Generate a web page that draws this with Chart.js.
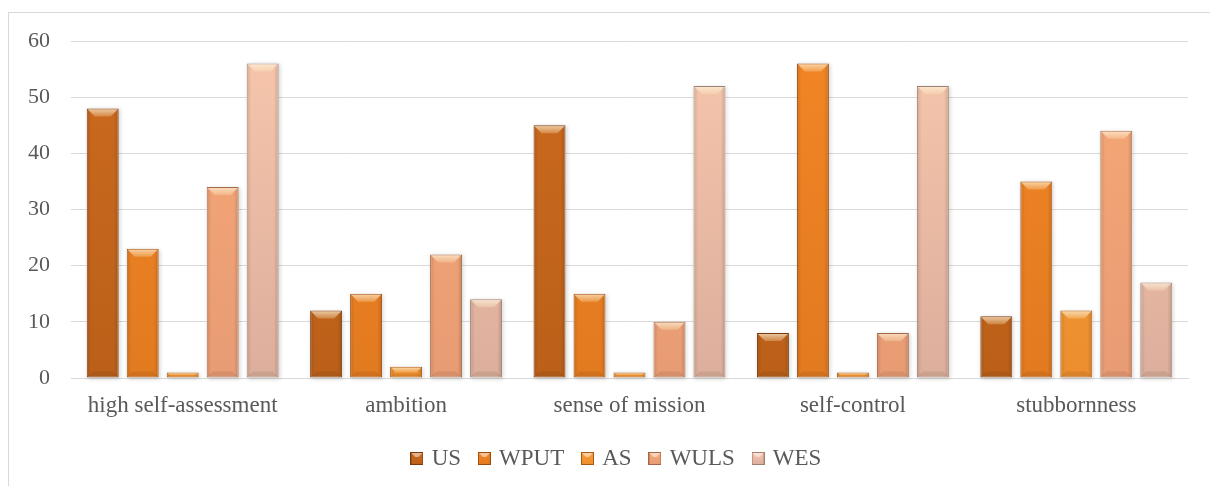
<!DOCTYPE html>
<html>
<head>
<meta charset="utf-8">
<script src="https://cdn.jsdelivr.net/npm/chart.js@4/dist/chart.umd.min.js"></script>
<style>
  html, body { margin: 0; padding: 0; background: #fff; overflow: hidden; }
  #wrap { position: relative; width: 1210px; height: 486px; overflow: hidden; }
  #frame { position: absolute; left: 8px; top: 12px; width: 1400px; height: 700px; border: 1px solid #d9d9d9; }
  #chart { position: absolute; left: 0; top: 0; }
</style>
</head>
<body>
<div id="wrap">
  <div id="frame"></div>
  <canvas id="chart" width="1210" height="486"></canvas>
</div>
<script>
// categories and series values
const categories = ["high self-assessment", "ambition", "sense of mission", "self-control", "stubbornness"];
const seriesNames = ["US", "WPUT", "AS", "WULS", "WES"];
const usValues   = [48, 12, 45, 8, 11];
const wputValues = [23, 15, 15, 56, 35];
const asValues   = [1, 2, 1, 1, 12];
const wulsValues = [34, 22, 10, 8, 44];
const wesValues  = [56, 14, 52, 52, 17];
const yTicks = [0, 10, 20, 30, 40, 50, 60];

// colours: top / bottom of body, edge
const topColors    = ["#cc6a20", "#f28626", "#f69c36", "#f7a876", "#f7c6ac"];
const bottomColors = ["#bb6019", "#e27a20", "#ec8e2e", "#e89c74", "#dcae9c"];
const edgeColors   = ["#7a3a0c", "#9a4c10", "#a85a14", "#a46848", "#a08070"];

const textColor = "#595959";
const fontFamily = "'Liberation Serif', 'Times New Roman', serif";

function vGrad(top, bottom) {
  return (c) => {
    const a = c.chart.chartArea;
    if (!a) return top;
    const g = c.chart.ctx.createLinearGradient(0, a.top, 0, a.bottom);
    g.addColorStop(0, top);
    g.addColorStop(1, bottom);
    return g;
  };
}

// small bevelled square used as legend marker
function swatch(i) {
  const c = document.createElement('canvas');
  c.width = 13; c.height = 13;
  const x = c.getContext('2d');
  const g = x.createLinearGradient(0, 0, 0, 13);
  g.addColorStop(0, topColors[i]);
  g.addColorStop(1, bottomColors[i]);
  x.fillStyle = g;
  x.fillRect(0, 0, 13, 13);
  x.beginPath();
  x.moveTo(1, 1); x.lineTo(12, 1); x.lineTo(8, 5); x.lineTo(5, 5); x.closePath();
  x.fillStyle = 'rgba(255,255,255,0.5)';
  x.fill();
  x.strokeStyle = edgeColors[i];
  x.lineWidth = 1;
  x.strokeRect(0.5, 0.5, 12, 12);
  return c;
}

const allValues = [usValues, wputValues, asValues, wulsValues, wesValues];

const datasets = seriesNames.map((name, i) => ({
  label: name,
  data: allValues[i],
  backgroundColor: vGrad(topColors[i], bottomColors[i]),
  borderColor: edgeColors[i],
  borderWidth: 1,
  borderSkipped: false,
  categoryPercentage: 0.895,
  barPercentage: 0.8
}));

// bevel / shading on each bar, drawn from the bar elements' own geometry
const bevelPlugin = {
  id: 'bevel',
  afterLayout(chart) {
    // centre the legend under the plot like the original
    if (chart.legend) chart.legend.left += 47;
  },
  beforeDatasetsDraw(chart) {
    const ctx = chart.ctx;
    ctx.save();
    chart.data.datasets.forEach((ds, i) => {
      chart.getDatasetMeta(i).data.forEach(bar => {
        const p = bar.getProps(['x', 'y', 'base', 'width'], true);
        ctx.shadowColor = 'rgba(0,0,0,0.18)';
        ctx.shadowBlur = 4;
        ctx.shadowOffsetX = 1;
        ctx.shadowOffsetY = 1;
        ctx.fillStyle = '#ffffff';
        ctx.fillRect(p.x - p.width / 2, p.y, p.width, p.base - p.y);
      });
    });
    ctx.restore();
  },
  afterDatasetsDraw(chart) {
    const ctx = chart.ctx;
    ctx.save();
    chart.data.datasets.forEach((ds, i) => {
      chart.getDatasetMeta(i).data.forEach(bar => {
        const p = bar.getProps(['x', 'y', 'base', 'width'], true);
        const left = p.x - p.width / 2, right = p.x + p.width / 2;
        const h = p.base - p.y;
        if (h <= 0) return;
        // side shading
        const sg = ctx.createLinearGradient(left, 0, right, 0);
        sg.addColorStop(0, 'rgba(0,0,0,0.12)');
        sg.addColorStop(0.15, 'rgba(0,0,0,0)');
        sg.addColorStop(0.85, 'rgba(0,0,0,0)');
        sg.addColorStop(1, 'rgba(0,0,0,0.16)');
        ctx.fillStyle = sg;
        ctx.fillRect(left + 1, p.y + 1, p.width - 2, h - 2);
        // top bevel
        const b = Math.min(8, h / 2, p.width / 2);
        ctx.beginPath();
        ctx.moveTo(left + 1, p.y + 1);
        ctx.lineTo(right - 1, p.y + 1);
        ctx.lineTo(right - b, p.y + b);
        ctx.lineTo(left + b, p.y + b);
        ctx.closePath();
        const tg = ctx.createLinearGradient(0, p.y, 0, p.y + b);
        tg.addColorStop(0, 'rgba(255,250,230,0.7)');
        tg.addColorStop(1, 'rgba(255,240,200,0.25)');
        ctx.fillStyle = tg;
        ctx.fill();
        // bottom bevel
        const bb = Math.min(6, h / 3);
        ctx.beginPath();
        ctx.moveTo(left + 1, p.base - 1);
        ctx.lineTo(right - 1, p.base - 1);
        ctx.lineTo(right - bb, p.base - bb);
        ctx.lineTo(left + bb, p.base - bb);
        ctx.closePath();
        ctx.fillStyle = 'rgba(0,0,0,0.08)';
        ctx.fill();
      });
    });
    ctx.restore();
  }
};

new Chart(document.getElementById("chart"), {
  type: "bar",
  data: { labels: categories, datasets: datasets },
  plugins: [bevelPlugin],
  options: {
    responsive: false,
    animation: false,
    layout: { padding: { top: 41, right: 22, left: 0, bottom: 6 } },
    scales: {
      x: {
        grid: { display: false, drawTicks: false },
        border: { color: "#d9d9d9" },
        ticks: { color: textColor, font: { family: fontFamily, size: 23 }, padding: 14, maxRotation: 0 },
        afterFit: (s) => { s.height = 49; }
      },
      y: {
        min: 0,
        max: 60,
        afterBuildTicks: (s) => { s.ticks = yTicks.map(v => ({ value: v })); },
        grid: { color: "#d9d9d9", drawTicks: false },
        border: { display: false },
        ticks: { color: textColor, font: { family: fontFamily, size: 22 }, padding: 21 },
        afterFit: (s) => { s.width = 71; }
      }
    },
    plugins: {
      tooltip: { enabled: false },
      legend: {
        position: "bottom",
        labels: {
          color: textColor,
          font: { family: fontFamily, size: 23 },
          usePointStyle: true,
          pointStyleWidth: 6.5,
          boxHeight: 13,
          padding: 20,
          generateLabels: (chart) => Chart.defaults.plugins.legend.labels.generateLabels(chart).map((l, i) => {
            l.pointStyle = swatch(i);
            return l;
          })
        }
      }
    }
  }
});
</script>
</body>
</html>
